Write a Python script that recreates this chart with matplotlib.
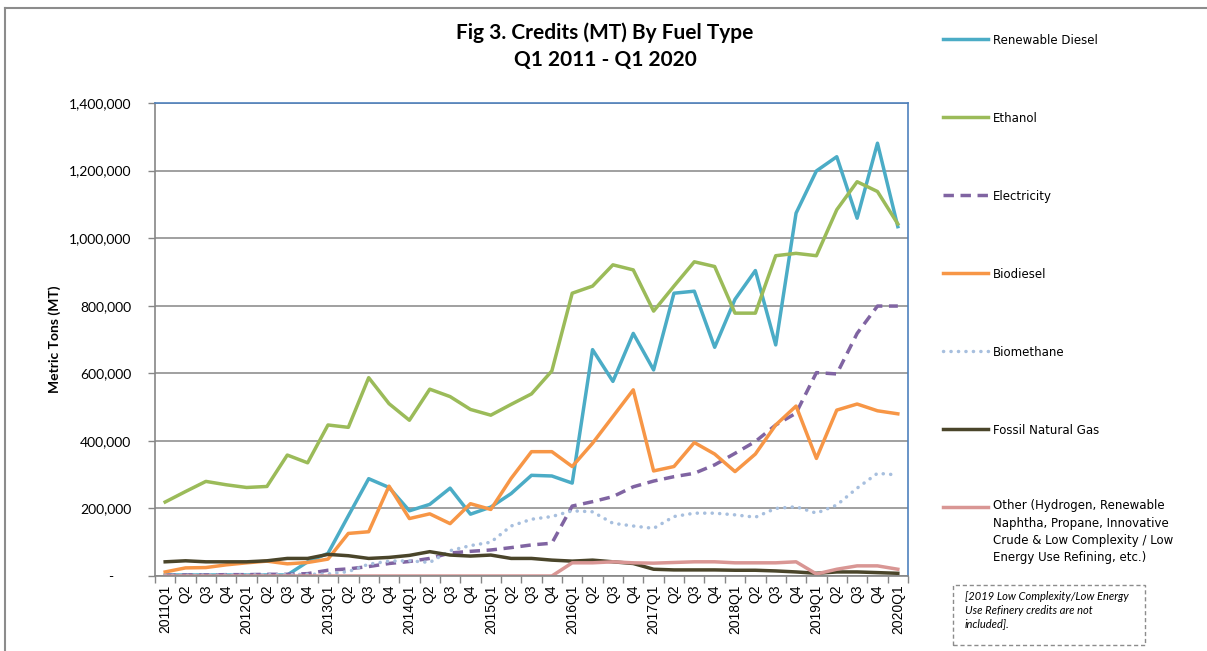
import numpy as np
import matplotlib
matplotlib.use("Agg")
import matplotlib.pyplot as plt
from matplotlib.lines import Line2D
from matplotlib.patches import Rectangle
from matplotlib.ticker import FuncFormatter

# quarters Q1 2011 - Q1 2020
quarters = []
for year in range(2011, 2021):
    for q in range(1, 5):
        if year == 2020 and q > 1:
            break
        quarters.append("%dQ%d" % (year, q) if q == 1 else "Q%d" % q)

renewable_diesel = [3000, 3000, 3000, 3000, 3000, 3000, 3000, 42000, 67000, 178000,
                    288000, 262000, 193000, 212000, 260000, 183000, 204000, 244000, 298000, 296000,
                    275000, 670000, 576000, 718000, 610000, 837000, 843000, 677000, 819000, 904000,
                    684000, 1074000, 1199000, 1241000, 1059000, 1281000, 1034000]
ethanol = [219000, 250000, 280000, 270000, 262000, 265000, 358000, 335000, 447000, 440000,
           587000, 510000, 461000, 553000, 531000, 493000, 476000, 508000, 539000, 607000,
           837000, 858000, 921000, 906000, 784000, 858000, 930000, 916000, 778000, 778000,
           948000, 955000, 948000, 1084000, 1167000, 1138000, 1042000]
electricity = [2000, 3000, 3000, 4000, 4000, 5000, 5000, 7000, 17000, 21000,
               28000, 37000, 43000, 52000, 68000, 73000, 77000, 84000, 92000, 97000,
               207000, 220000, 235000, 264000, 281000, 294000, 304000, 329000, 363000, 398000,
               447000, 482000, 602000, 598000, 718000, 799000, 799000]
biodiesel = [12000, 24000, 25000, 33000, 39000, 44000, 36000, 40000, 50000, 126000,
             131000, 266000, 170000, 184000, 155000, 214000, 197000, 289000, 368000, 368000,
             324000, 393000, 472000, 551000, 311000, 324000, 395000, 361000, 309000, 361000,
             447000, 503000, 348000, 491000, 509000, 489000, 480000]
biomethane = [2000, 2000, 3000, 3000, 3000, 4000, 4000, 5000, 6000, 13000,
              35000, 44000, 45000, 40000, 75000, 90000, 100000, 148000, 168000, 176000,
              193000, 190000, 156000, 148000, 141000, 176000, 186000, 186000, 181000, 174000,
              200000, 205000, 186000, 210000, 260000, 304000, 299000]
fossil_gas = [42000, 45000, 42000, 42000, 42000, 45000, 52000, 52000, 64000, 60000,
              52000, 55000, 61000, 72000, 62000, 59000, 62000, 52000, 52000, 47000,
              44000, 47000, 42000, 37000, 20000, 18000, 18000, 18000, 17000, 17000,
              15000, 12000, 8000, 12000, 12000, 10000, 8000]
other = [0, 0, 0, 0, 0, 0, 0, 0, 0, 0,
         0, 0, 0, 0, 0, 0, 0, 0, 0, 0,
         39000, 39000, 42000, 39000, 38000, 40000, 42000, 42000, 39000, 39000,
         39000, 42000, 6000, 20000, 30000, 30000, 20000]

series_names = ["Renewable Diesel", "Ethanol", "Electricity", "Biodiesel", "Biomethane",
                "Fossil Natural Gas",
                "Other (Hydrogen, Renewable\nNaphtha, Propane, Innovative\nCrude & Low Complexity / Low\nEnergy Use Refining, etc.)"]
series_values = [renewable_diesel, ethanol, electricity, biodiesel, biomethane, fossil_gas, other]
colors = ["#4BACC6", "#9BBB59", "#8064A2", "#F79646", "#A7BFDE", "#4A452A", "#D99694"]
styles = [
    dict(linestyle="-"),
    dict(linestyle="-"),
    dict(linestyle=(0, (3.0, 1.9))),
    dict(linestyle="-"),
    dict(linestyle=(0, (0.05, 2.1)), dash_capstyle="round"),
    dict(linestyle="-"),
    dict(linestyle="-"),
]

fig = plt.figure(figsize=(12.07, 6.51), dpi=100)
ax = fig.add_axes([155 / 1207, 1 - 576 / 651, 753 / 1207, 473 / 651])

x = np.arange(len(quarters))
for vals, col, st in zip(series_values, colors, styles):
    ax.plot(x, vals, color=col, linewidth=2.5, solid_joinstyle="round", **st)

ax.set_xlim(-0.5, len(quarters) - 0.5)
ax.set_ylim(0, 1400000)
ax.set_yticks(np.arange(0, 1400001, 200000))
ax.yaxis.set_major_formatter(FuncFormatter(lambda v, p: "-     " if v == 0 else "{:,.0f}".format(v)))
ax.grid(axis="y", color="#868686", linewidth=1.1)
ax.set_axisbelow(True)

ax.set_xticks(x)
ax.set_xticklabels(quarters, rotation=90, family="Liberation Sans", fontsize=10)
ax.set_xticks(np.arange(-0.5, len(quarters)), minor=True)
ax.tick_params(axis="x", which="major", length=0, pad=6)
ax.tick_params(axis="x", which="minor", length=5, color="#868686", width=1)
ax.tick_params(axis="y", length=5, color="#868686", width=1, pad=12)
for lab in ax.get_yticklabels():
    lab.set_family("Lato")
    lab.set_fontsize(10)

for s in ["top", "right"]:
    ax.spines[s].set_color("#4F81BD")
    ax.spines[s].set_linewidth(1.2)
for s in ["left", "bottom"]:
    ax.spines[s].set_color("#868686")
    ax.spines[s].set_linewidth(1.2)

ax.set_ylabel("Metric Tons (MT)", family="Lato", fontweight="bold", fontsize=10, labelpad=6)

fig.text(605 / 1207, 1 - 33 / 651, "Fig 3. Credits (MT) By Fuel Type", ha="center", va="center",
         family="Lato", fontweight="bold", fontsize=15)
fig.text(605 / 1207, 1 - 60 / 651, "Q1 2011 - Q1 2020", ha="center", va="center",
         family="Lato", fontweight="bold", fontsize=15)

# legend drawn by hand, one entry per 78 px
legend_y = [39, 117, 195, 273, 351, 429, 507]
for name, col, st, ly in zip(series_names, colors, styles, legend_y):
    yy = 1 - ly / 651
    fig.add_artist(Line2D([943 / 1207, 988 / 1207], [yy, yy], color=col, linewidth=2.5,
                          transform=fig.transFigure, **st))
    fig.text(993 / 1207, 1 - (ly + 8) / 651 if "\n" not in name else 1 - (ly - 8) / 651, name,
             ha="left", va="bottom" if "\n" not in name else "top",
             family="DejaVu Sans", fontsize=8.5, linespacing=1.45)

# note box
fig.add_artist(Rectangle((953 / 1207, 1 - 645 / 651), 192 / 1207, 60 / 651, transform=fig.transFigure,
                         fill=False, edgecolor="#8c8c8c", linestyle=(0, (3, 2)), linewidth=1))
fig.text(965 / 1207, 1 - 591 / 651,
         "[2019 Low Complexity/Low Energy\nUse Refinery credits are not\nincluded].",
         ha="left", va="top", family="Lato", style="italic", fontsize=8, linespacing=1.3)

# outer chart border
fig.add_artist(Line2D([4.5 / 1207, 4.5 / 1207], [0, 1 - 8 / 651], color="#8c8c8c", linewidth=1.5,
                      transform=fig.transFigure))
fig.add_artist(Line2D([4.5 / 1207, 1], [1 - 8 / 651, 1 - 8 / 651], color="#8c8c8c", linewidth=1.5,
                      transform=fig.transFigure))

plt.savefig("out.png", dpi=100)
